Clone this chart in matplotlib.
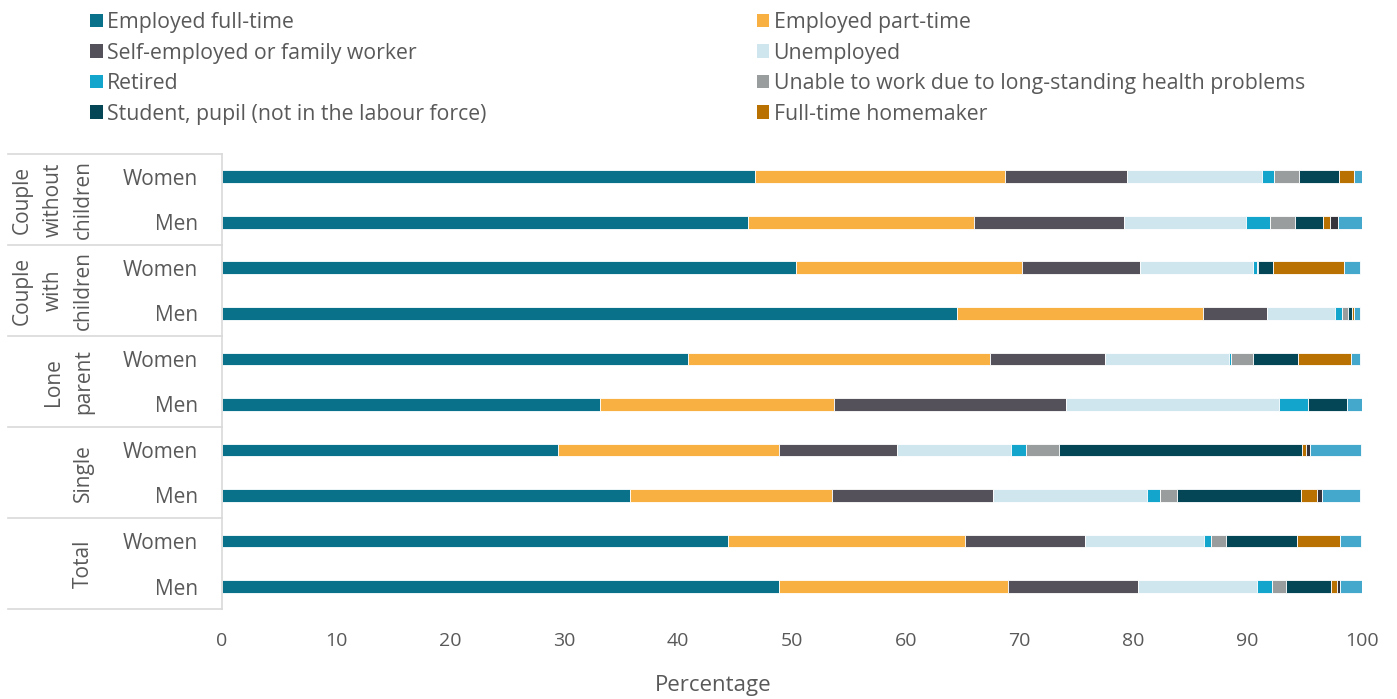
import matplotlib.pyplot as plt
import matplotlib.transforms as mtransforms
from matplotlib.patches import Patch
import numpy as np

plt.rcParams['font.family'] = ['Open Sans', 'DejaVu Sans']

# rows from top to bottom
groups = ['Couple\nwithout\nchildren', 'Couple\nwith\nchildren', 'Lone\nparent', 'Single', 'Total']
sexes = ['Women', 'Men'] * 5

status = ['Employed full-time', 'Employed part-time', 'Self-employed or family worker',
          'Unemployed', 'Retired', 'Unable to work due to long-standing health problems',
          'Student, pupil (not in the labour force)', 'Full-time homemaker',
          'Compulsory military service', 'Other']

full_time  = [46.8, 46.2, 50.4, 64.5, 40.9, 33.2, 29.5, 35.8, 44.4, 48.9]
part_time  = [21.9, 19.8, 19.8, 21.6, 26.5, 20.5, 19.4, 17.7, 20.8, 20.1]
self_emp   = [10.7, 13.2, 10.4, 5.6, 10.1, 20.4, 10.35, 14.2, 10.5, 11.35]
unemployed = [11.9, 10.7, 9.9, 6.0, 10.9, 18.7, 10.0, 13.5, 10.5, 10.5]
retired    = [1.0, 2.1, 0.3, 0.6, 0.15, 2.5, 1.3, 1.1, 0.55, 1.3]
unable     = [2.2, 2.2, 0.1, 0.5, 1.95, 0.0, 2.9, 1.5, 1.4, 1.2]
student    = [3.5, 2.4, 1.3, 0.4, 3.95, 3.4, 21.3, 10.9, 6.2, 3.95]
homemaker  = [1.3, 0.6, 6.3, 0.1, 4.6, 0.0, 0.4, 1.4, 3.8, 0.55]
military   = [0.0, 0.7, 0.0, 0.0, 0.0, 0.0, 0.3, 0.4, 0.0, 0.3]
other      = [0.7, 2.1, 1.4, 0.6, 0.85, 1.4, 4.5, 3.4, 1.8, 1.85]

colors = ['#0a718b', '#f9b043', '#54515a', '#cfe6ef', '#13a5cb',
          '#9a9d9e', '#044556', '#b97102', '#35333b', '#43a8cb']

series = [full_time, part_time, self_emp, unemployed, retired,
          unable, student, homemaker, military, other]

fig = plt.figure(figsize=(13.97, 6.99), dpi=100)
ax = fig.add_axes([0.1589, 0.1283, 0.8157, 0.6514])

y = np.arange(len(sexes))
left = np.zeros(len(sexes))
for vals, col in zip(series, colors):
    ax.barh(y, vals, left=left, height=0.28, color=col, edgecolor='white', linewidth=0.6)
    left += np.array(vals)

ax.set_xlim(0, 100)
ax.set_ylim(9.5, -0.5)
ax.set_xticks(np.arange(0, 101, 10))
ax.set_yticks(y)
ax.set_yticklabels(sexes)
ax.tick_params(axis='both', length=0, labelsize=14, labelcolor='#595959')
ax.tick_params(axis='y', pad=17, labelsize=15)
ax.tick_params(axis='x', pad=16)
for s in ['top', 'right', 'bottom']:
    ax.spines[s].set_visible(False)
ax.spines['left'].set_color('#d9d9d9')
ax.spines['left'].set_linewidth(1.2)

ax.set_xlabel('Percentage', fontsize=16, color='#595959')
ax.xaxis.set_label_coords(0.431, -0.145)

# group separators and labels on the left
trans = mtransforms.blended_transform_factory(ax.transAxes, ax.transData)
for b in np.arange(-0.5, 10, 2):
    ax.plot([-0.188, 0], [b, b], transform=trans, color='#d9d9d9', lw=1.2, clip_on=False)
for i, g in enumerate(groups):
    ax.text(-0.112, 2 * i + 0.5, g, transform=trans, rotation=90, ha='right', va='center',
            multialignment='center', fontsize=15, color='#595959', linespacing=1.6)

# legend, two columns
order1 = [0, 2, 4, 6]
order2 = [1, 3, 5, 7]
for order, xa in [(order1, 0.0585), (order2, 0.5355)]:
    handles = [Patch(facecolor=colors[k], label=status[k]) for k in order]
    fig.legend(handles=handles, loc='upper left', bbox_to_anchor=(xa, 0.995), frameon=False,
               fontsize=15.3, labelcolor='#595959', handlelength=0.6, handleheight=0.6,
               handletextpad=0.2, labelspacing=0.45, borderaxespad=0)

fig.savefig('out.png', dpi=100)
